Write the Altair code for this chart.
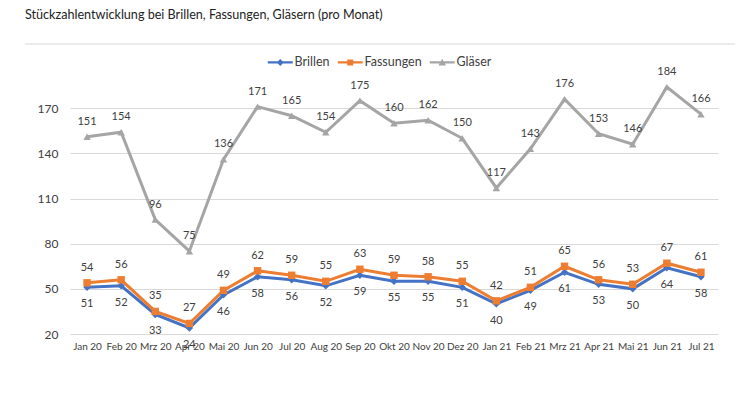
import altair as alt
import pandas as pd

months = ["Jan 20", "Feb 20", "Mrz 20", "Apr 20", "Mai 20", "Jun 20", "Jul 20",
          "Aug 20", "Sep 20", "Okt 20", "Nov 20", "Dez 20", "Jan 21", "Feb 21",
          "Mrz 21", "Apr 21", "Mai 21", "Jun 21", "Jul 21"]
brillen = [51, 52, 33, 24, 46, 58, 56, 52, 59, 55, 55, 51, 40, 49, 61, 53, 50, 64, 58]
fassungen = [54, 56, 35, 27, 49, 62, 59, 55, 63, 59, 58, 55, 42, 51, 65, 56, 53, 67, 61]
glaeser = [151, 154, 96, 75, 136, 171, 165, 154, 175, 160, 162, 150, 117, 143, 176, 153, 146, 184, 166]
series = ["Brillen", "Fassungen", "Gläser"]
colors = ["#4472C4", "#ED7D31", "#A5A5A5"]
shapes = ["diamond", "square", "triangle-up"]
y_ticks = [20, 50, 80, 110, 140, 170]

rows = []
for name, vals in zip(series, [brillen, fassungen, glaeser]):
    for m, v in zip(months, vals):
        rows.append({"Monat": m, "Serie": name, "Wert": v})
df = pd.DataFrame(rows)

FONT = "Lato"
TXT = "#404040"

# legend symbols: a short line with the series marker on it (unit-square paths)
LINE = "M-2.5,-0.22H2.5V0.22H-2.5Z"
legend_paths = [
    LINE + "M0,-0.7L0.7,0L0,0.7L-0.7,0Z",
    LINE + "M-0.6,-0.6H0.6V0.6H-0.6Z",
    LINE + "M0,-0.75L0.75,0.6H-0.75Z",
]

x = alt.X("Monat:N", sort=months, title=None,
          axis=alt.Axis(labelAngle=0, ticks=False, domain=False, labelFontSize=10,
                        labelColor=TXT, labelPadding=7, labelFont=FONT, grid=False))
y = alt.Y("Wert:Q", title=None,
          scale=alt.Scale(domain=[20, 200], nice=False, zero=False),
          axis=alt.Axis(values=y_ticks, ticks=False, domain=False, labelFontSize=12,
                        labelColor=TXT, labelPadding=12, labelFont=FONT,
                        gridColor="#D9D9D9", gridWidth=1))

leg = alt.Legend(title=None, orient="none", direction="horizontal", legendX=204, legendY=-7,
                 labelFont=FONT, labelFontSize=12.5, labelColor=TXT, symbolSize=100,
                 columnPadding=7, labelOffset=8, symbolStrokeWidth=0, symbolOpacity=1)
color_scale = alt.Scale(domain=series, range=colors)

base = alt.Chart(df)

lines = base.mark_line(strokeWidth=3).encode(
    x=x, y=y, color=alt.Color("Serie:N", scale=color_scale, legend=None))
points = base.mark_point(filled=True, size=55, opacity=1).encode(
    x=x, y=y, color=alt.Color("Serie:N", scale=color_scale, legend=None),
    shape=alt.Shape("Serie:N", scale=alt.Scale(domain=series, range=shapes), legend=None))
legend_layer = base.transform_filter("false").mark_point(filled=True).encode(
    x=x, y=y, color=alt.Color("Serie:N", scale=color_scale, legend=leg),
    shape=alt.Shape("Serie:N", scale=alt.Scale(domain=series, range=legend_paths), legend=leg))

def labels(name, dy):
    return base.transform_filter(alt.datum.Serie == name).mark_text(
        dy=dy, fontSize=11, font=FONT, color=TXT).encode(x=x, y=y, text="Wert:Q")

sep = alt.Chart(pd.DataFrame({"a": [0]})).mark_rule(color="#D9D9D9", strokeWidth=1).encode(
    x=alt.value(-45), x2=alt.value(665), y=alt.value(-19))

chart = alt.layer(sep, lines, points, legend_layer, labels("Brillen", 17),
                  labels("Fassungen", -15), labels("Gläser", -15)).resolve_scale(
    shape="independent", color="independent").properties(
    width=648, height=271,
    title=alt.TitleParams("Stückzahlentwicklung bei Brillen, Fassungen, Gläsern (pro Monat)",
                          anchor="start", frame="group", dx=-45, offset=22,
                          fontSize=12.6, fontWeight="normal", font=FONT, color="#222222"),
    autosize=alt.AutoSizeParams(type="none"),
    padding={"left": 62, "top": 55, "right": 24, "bottom": 53},
).configure(background="white").configure_view(stroke=None)

chart.save("out.html", embed_options={"renderer": "svg", "actions": False})
